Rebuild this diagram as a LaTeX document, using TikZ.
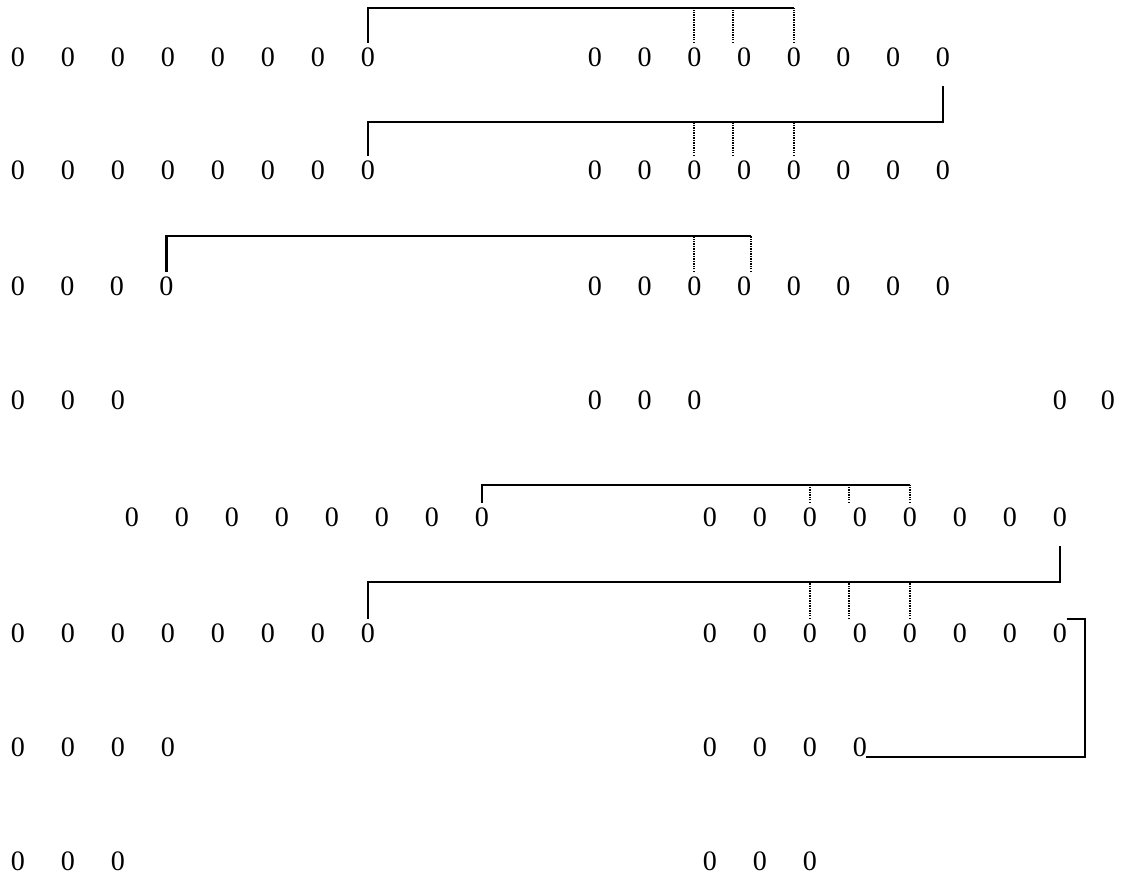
\documentclass[tikz,border=0pt]{standalone}
\usepackage{fontspec}
\setmainfont{Liberation Serif}
\usepackage{tikz}

\begin{document}
\begin{tikzpicture}[x=0.02cm,y=-0.02cm,font=\fontsize{16}{18}\selectfont,
    zero/.style={inner sep=0pt,outer sep=2.6pt},
    link/.style={line width=1.2pt},
    tie/.style={line width=1.2pt,dash pattern=on 0.8pt off 0.6pt}]
    \useasboundingbox (0,0) rectangle (1123,879);
    % rows of zeros
    \foreach \i in {1,...,8} {
      \node[zero] (r1l\i) at ({18+50*(\i-1)},57) {0};
      \node[zero] (r1r\i) at ({595+49.7*(\i-1)},57) {0};
      \node[zero] (r2l\i) at ({18+50*(\i-1)},170) {0};
      \node[zero] (r2r\i) at ({595+49.7*(\i-1)},170) {0};
      \node[zero] (r3r\i) at ({595+49.7*(\i-1)},286) {0};
      \node[zero] (r5l\i) at ({132+50*(\i-1)},517) {0};
      \node[zero] (r5r\i) at ({710+50*(\i-1)},517) {0};
      \node[zero] (r6l\i) at ({18+50*(\i-1)},633) {0};
      \node[zero] (r6r\i) at ({710+50*(\i-1)},633) {0};
    }
    \foreach \i in {1,...,4} {
      \node[zero] (r3l\i) at ({18+49.5*(\i-1)},286) {0};
      \node[zero] (r7l\i) at ({18+50*(\i-1)},747) {0};
      \node[zero] (r7r\i) at ({710+50*(\i-1)},747) {0};
    }
    \foreach \i in {1,...,3} {
      \node[zero] (r4l\i) at ({18+50*(\i-1)},400) {0};
      \node[zero] (r4r\i) at ({595+49.7*(\i-1)},400) {0};
      \node[zero] (r8l\i) at ({18+50*(\i-1)},861) {0};
      \node[zero] (r8r\i) at ({710+50*(\i-1)},861) {0};
    }
    \node[zero] (r4f1) at (1060,400) {0};
    \node[zero] (r4f2) at (1108,400) {0};

    % levels of the brackets
    \coordinate (ta) at (0,8);
    \coordinate (tb) at (0,122);
    \coordinate (tc) at (0,236);
    \coordinate (td) at (0,485);
    \coordinate (te) at (0,582);
    \coordinate (tf) at (1085,0);
    \coordinate (fe) at ([xshift=-0.12cm,yshift=0.08cm]r7r4.south east);

    % row 1
    \draw[link] (r1l8.north) |- (r1r5.north |- ta);
    \draw[tie] (r1r3.north) -- (r1r3.north |- ta);
    \draw[tie] ([xshift=-0.22cm]r1r4.north) -- ([xshift=-0.22cm]r1r4.north |- ta);
    \draw[tie] (r1r5.north) -- (r1r5.north |- ta);
    % rows 1 to 2
    \draw[link] ([yshift=-0.3cm]r1r8.south) |- (r2l8.north |- tb) -- (r2l8.north);
    \draw[tie] (r2r3.north) -- (r2r3.north |- tb);
    \draw[tie] ([xshift=-0.22cm]r2r4.north) -- ([xshift=-0.22cm]r2r4.north |- tb);
    \draw[tie] (r2r5.north) -- (r2r5.north |- tb);
    % row 3
    \draw[link] (r3l4.north) |- ([xshift=0.14cm]r3r4.north |- tc);
    \draw[tie] (r3r3.north) -- (r3r3.north |- tc);
    \draw[tie] ([xshift=0.14cm]r3r4.north) -- ([xshift=0.14cm]r3r4.north |- tc);
    % row 5
    \draw[link] (r5l8.north) |- (r5r5.north |- td);
    \draw[tie] (r5r3.north) -- (r5r3.north |- td);
    \draw[tie] ([xshift=-0.22cm]r5r4.north) -- ([xshift=-0.22cm]r5r4.north |- td);
    \draw[tie] (r5r5.north) -- (r5r5.north |- td);
    % rows 5 to 6
    \draw[link] ([yshift=-0.3cm]r5r8.south) |- (r6l8.north |- te) -- (r6l8.north);
    \draw[tie] (r6r3.north) -- (r6r3.north |- te);
    \draw[tie] ([xshift=-0.22cm]r6r4.north) -- ([xshift=-0.22cm]r6r4.north |- te);
    \draw[tie] (r6r5.north) -- (r6r5.north |- te);
    % rows 6 to 7
    \draw[link] ([xshift=-0.1cm]r6r8.north east) -| (tf |- fe) -- (fe);
  \end{tikzpicture}
\end{document}
